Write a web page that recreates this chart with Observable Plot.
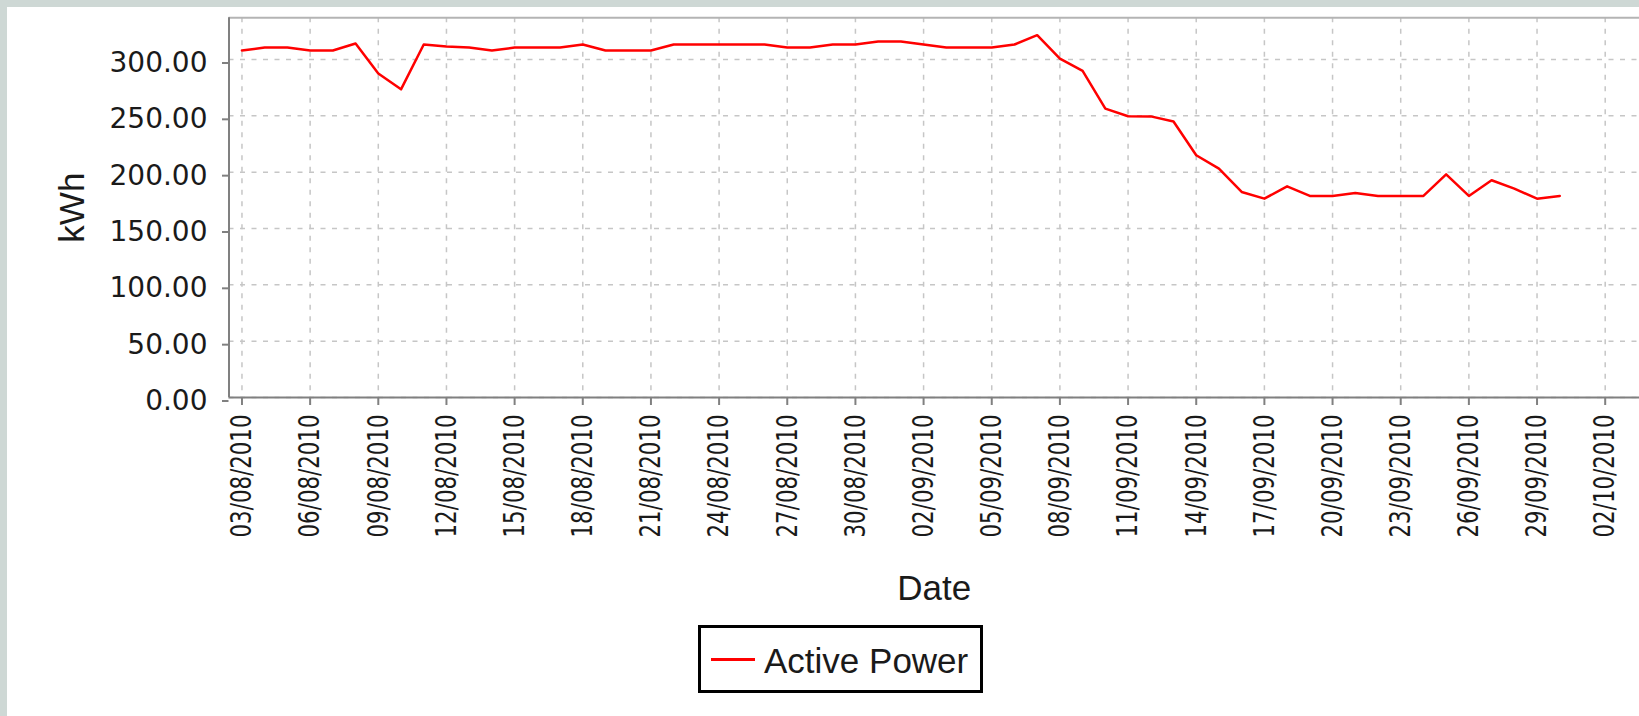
<!DOCTYPE html>
<html>
<head>
<meta charset="utf-8">
<script src="https://cdn.jsdelivr.net/npm/d3@7"></script>
<script src="https://cdn.jsdelivr.net/npm/@observablehq/plot@0.6"></script>
<style>
  html, body { margin: 0; padding: 0; overflow: hidden; background: #ced8d5; }
  #wrap { position: relative; width: 1639px; height: 716px; background: #ced8d5; overflow: hidden; }
  #panel { position: absolute; left: 7px; top: 7px; right: 0; bottom: 0; background: #ffffff; }
  #chart { position: absolute; left: 0; top: 0; }
  #chart svg { overflow: visible; }
  g[aria-label="y-axis label"], g[aria-label="x-axis label"] {
    font-size: 35px !important;
    font-family: "Liberation Sans", Arial, sans-serif !important;
    fill: #1a1a1a;
  }
  #legend {
    position: absolute; left: 698px; top: 625px; width: 285px; height: 68px;
    box-sizing: border-box; border: 3px solid #000; background: #fff;
    font-family: "Liberation Sans", Arial, sans-serif; font-size: 35px; color: #1a1a1a;
  }
  #legend .sw { position: absolute; left: 10px; top: 30px; width: 44px; height: 2.5px; background: #ff0000; }
  #legend .lt { position: absolute; left: 63px; top: 15px; line-height: 35px; white-space: nowrap; }
</style>
</head>
<body>
<div id="wrap">
  <div id="panel"></div>
  <div id="chart"></div>
  <div id="legend"><span class="sw"></span><span class="lt" id="legendText"></span></div>
</div>
<script>
// ---- data ----
const seriesName = "Active Power";
const xLabel = "Date";
const yLabel = "kWh";

const dates = [
  "2010-08-03","2010-08-04","2010-08-05","2010-08-06","2010-08-07","2010-08-08","2010-08-09","2010-08-10",
  "2010-08-11","2010-08-12","2010-08-13","2010-08-14","2010-08-15","2010-08-16","2010-08-17","2010-08-18",
  "2010-08-19","2010-08-20","2010-08-21","2010-08-22","2010-08-23","2010-08-24","2010-08-25","2010-08-26",
  "2010-08-27","2010-08-28","2010-08-29","2010-08-30","2010-08-31","2010-09-01","2010-09-02","2010-09-03",
  "2010-09-04","2010-09-05","2010-09-06","2010-09-07","2010-09-08","2010-09-09","2010-09-10","2010-09-11",
  "2010-09-12","2010-09-13","2010-09-14","2010-09-15","2010-09-16","2010-09-17","2010-09-18","2010-09-19",
  "2010-09-20","2010-09-21","2010-09-22","2010-09-23","2010-09-24","2010-09-25","2010-09-26","2010-09-27",
  "2010-09-28","2010-09-29","2010-09-30"
];

const activePower = [
  308.0, 310.6, 310.6, 308.0, 308.0, 314.2, 287.5, 273.5,
  313.3, 311.5, 310.6, 308.0, 310.6, 310.6, 310.6, 313.3,
  308.0, 308.0, 308.0, 313.3, 313.3, 313.3, 313.3, 313.3,
  310.6, 310.6, 313.3, 313.3, 315.9, 315.9, 313.3, 310.6,
  310.6, 310.6, 313.3, 321.6, 300.8, 289.9, 256.4, 249.6,
  249.5, 244.9, 215.0, 203.1, 182.4, 176.5, 187.4, 178.9,
  178.9, 181.5, 178.9, 178.9, 178.9, 198.1, 178.9, 192.8,
  185.4, 176.5, 178.9
];

const xTickDates = [
  "2010-08-03","2010-08-06","2010-08-09","2010-08-12","2010-08-15","2010-08-18","2010-08-21",
  "2010-08-24","2010-08-27","2010-08-30","2010-09-02","2010-09-05","2010-09-08","2010-09-11",
  "2010-09-14","2010-09-17","2010-09-20","2010-09-23","2010-09-26","2010-09-29","2010-10-02"
];
const yTicks = [0, 50, 100, 150, 200, 250, 300];

const xDomain = ["2010-08-02T10:18Z", "2010-10-03T12:14Z"];
const yDomain = [0, 337];

// ---- build ----
const table = dates.map((d, i) => ({date: new Date(d), value: activePower[i]}));
const xTicks = xTickDates.map(d => new Date(d));
const xDom = xDomain.map(d => new Date(d));
const xFmt = d3.utcFormat("%d/%m/%Y");

const ctx = document.createElement("canvas").getContext("2d");
function hasFont(name) {
  const s = "03/08/2010 mmmWWWiiilll";
  ctx.font = "40px monospace";
  const a = ctx.measureText(s).width;
  ctx.font = `40px "${name}", monospace`;
  const b = ctx.measureText(s).width;
  return Math.abs(a - b) > 0.5;
}
let xTickFamily = "Liberation Sans, Arial, sans-serif";
if (hasFont("Liberation Sans Narrow")) xTickFamily = "'Liberation Sans Narrow'";
else if (hasFont("DejaVu Sans Condensed")) xTickFamily = "'DejaVu Sans Condensed'";
// rotated date labels: glyphs about 21px tall, one label about 123px long
const xTickSize = 29;
ctx.font = `${xTickSize}px ${xTickFamily}`;
const xTickSquash = Math.min(1, 123 / ctx.measureText(xFmt(xTicks[0])).width);

const gridStyle = {stroke: "#c6c6c6", strokeOpacity: 1, strokeWidth: 1.5, strokeDasharray: "5,6.5"};

const chart = Plot.plot({
  width: 1639,
  height: 716,
  marginLeft: 228.5,
  marginRight: 0,
  marginTop: 17.3,
  marginBottom: 319,
  style: {background: "transparent", fontFamily: "Liberation Sans, Arial, sans-serif", color: "#1a1a1a"},
  x: {type: "utc", domain: xDom},
  y: {domain: yDomain},
  marks: [
    Plot.gridX({ticks: xTicks, ...gridStyle}),
    Plot.gridY({ticks: yTicks, ...gridStyle}),
    Plot.ruleY([yDomain[1]], {stroke: "#b4b4b4", strokeWidth: 2}),
    Plot.ruleY([0], {stroke: "#808080", strokeWidth: 2}),
    Plot.ruleX([xDom[0]], {stroke: "#808080", strokeWidth: 2}),
    Plot.axisY({
      ticks: yTicks, tickFormat: d3.format(".2f"),
      tickSize: 6.5, tickPadding: 15, dy: 3.5,
      stroke: "#808080", strokeWidth: 2, fill: "#1a1a1a",
      fontSize: 28, fontFamily: "DejaVu Sans, sans-serif",
      label: yLabel, labelAnchor: "center", labelOffset: 169.5, labelArrow: "none"
    }),
    Plot.axisX({
      ticks: xTicks, tickFormat: xFmt,
      tickSize: 8, tickPadding: 9, tickRotate: -90,
      stroke: "#808080", strokeWidth: 2, fill: "#1a1a1a",
      fontSize: xTickSize, fontFamily: xTickFamily,
      label: xLabel, labelAnchor: "center", labelOffset: 202, labelArrow: "none"
    }),
    Plot.line(table, {x: "date", y: "value", stroke: "#ff0000", strokeWidth: 2.5})
  ]
});
document.getElementById("chart").appendChild(chart);
// fallback for Plot builds without labelArrow: strip any arrow glyphs from the axis labels
chart.querySelectorAll('g[aria-label$="axis label"] text').forEach(t => {
  t.textContent = t.textContent.replace(/\s*[\u2190-\u2193]\s*/g, "").trim();
});
// condense the rotated date labels along their reading direction (like the original bitmap font)
if (xTickSquash < 1) {
  chart.querySelectorAll('g[aria-label="x-axis tick label"] text').forEach(t => {
    const tr = t.getAttribute("transform");
    if (tr && tr.includes("rotate")) t.setAttribute("transform", `${tr} scale(${xTickSquash},1)`);
  });
}
document.getElementById("legendText").textContent = seriesName;
</script>
</body>
</html>
